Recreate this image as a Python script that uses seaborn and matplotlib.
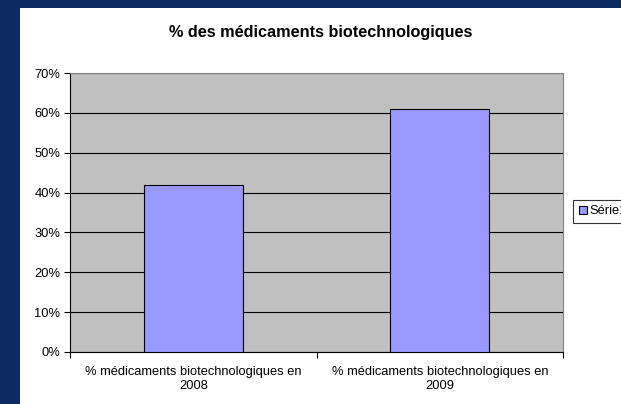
import pandas as pd
import numpy as np
import matplotlib
matplotlib.use('Agg')
import matplotlib.pyplot as plt
import seaborn as sns
from matplotlib.patches import Rectangle
from matplotlib.ticker import PercentFormatter, MultipleLocator

# ---------- Data ----------
categories = ['% médicaments biotechnologiques en\n2008',
              '% médicaments biotechnologiques en\n2009']
values = [0.42, 0.61]
series_name = 'Série1'
title = '% des médicaments biotechnologiques'

df = pd.DataFrame({'cat': categories, 'val': values})

sns.set_theme(style='white')
plt.rcParams['font.family'] = ['Liberation Sans', 'DejaVu Sans']
plt.rcParams['text.color'] = 'black'
plt.rcParams['xtick.color'] = 'black'
plt.rcParams['ytick.color'] = 'black'

W, H = 621, 404
fig = plt.figure(figsize=(W / 100, H / 100), dpi=100, facecolor='#0c2b62')

# white chart panel on top of dark blue slide background
fig.patches.append(Rectangle((20 / W, 0), 1 - 20 / W, 1 - 8 / H,
                             transform=fig.transFigure, facecolor='white',
                             edgecolor='none', zorder=-5))

ax = fig.add_axes([70 / W, 1 - 352 / H, (563 - 70) / W, (352 - 73) / H])
ax.set_zorder(2)
ax.set_facecolor('#c0c0c0')

sns.barplot(data=df, x='cat', y='val', ax=ax, color='#9999ff', width=0.4,
            edgecolor='black', linewidth=0.8, saturation=1, label=series_name,
            zorder=3)

ax.set_xlim(-0.5, 1.5)
ax.set_ylim(0, 0.70)
ax.yaxis.set_major_locator(MultipleLocator(0.1))
ax.yaxis.set_major_formatter(PercentFormatter(1.0, decimals=0))
ax.grid(axis='y', color='black', linewidth=0.8, zorder=1)
ax.set_axisbelow(True)

for s in ['top', 'right']:
    ax.spines[s].set_color('#808080')
for s in ['left', 'bottom']:
    ax.spines[s].set_color('black')
for s in ax.spines.values():
    s.set_linewidth(0.8)

# category ticks sit between categories, labels in the middle
ax.set_xticks([-0.5, 0.5, 1.5])
ax.set_xticklabels([])
ax.set_xticks([0, 1], minor=True)
ax.set_xticklabels(categories, minor=True, fontsize=9.3)
ax.tick_params(axis='x', which='major', length=4, width=0.8, color='black',
               direction='out', bottom=True)
ax.tick_params(axis='x', which='minor', length=0, pad=10)
ax.tick_params(axis='y', length=4, width=0.8, color='black', direction='out',
               left=True, labelsize=9.3, pad=3)
ax.set_xlabel('')
ax.set_ylabel('')

fig.text((20 + W) / 2 / W, 1 - 32 / H, title, ha='center', va='center',
         fontsize=11.7, fontweight='bold', color='black')

leg = ax.legend(loc='center left', bbox_to_anchor=(573 / W, 1 - 211.5 / H),
                bbox_transform=fig.transFigure, frameon=True, fancybox=False,
                fontsize=9.3, handlelength=0.6, handleheight=0.6,
                handletextpad=0.25, borderpad=0.45, borderaxespad=0)
leg.get_frame().set_edgecolor('black')
leg.get_frame().set_linewidth(0.8)

fig.savefig('out.png', dpi=100, facecolor=fig.get_facecolor())
